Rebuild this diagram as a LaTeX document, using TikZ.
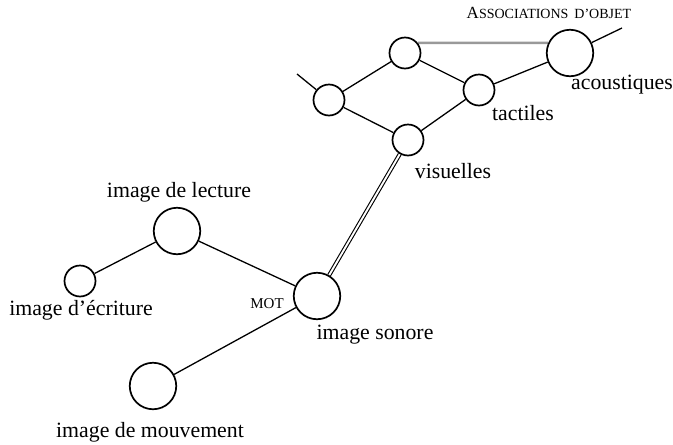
\documentclass[tikz,border=0pt]{standalone}
\usepackage{fontspec}
\setmainfont{Liberation Serif}
\pgfdeclarelayer{bg}
\pgfsetlayers{bg,main}
\newcommand{\fsc}[2]{{\fontsize{17}{18}\selectfont #1}{\fontsize{14}{15}\selectfont #2}}
\begin{document}
\begin{tikzpicture}[x=1pt,y=-1pt,
  circ/.style={circle,draw,line width=1.7pt,inner sep=0pt,fill=white},
  smallc/.style={circ,minimum size=31pt},
  bigc/.style={circ,minimum size=46.5pt},
  edge/.style={line width=1.3pt},
  grayedge/.style={line width=2.4pt,color=black!40},
  dbl/.style={line width=1.1pt,double=white,double distance=1.9pt},
  lbl/.style={anchor=base,inner sep=0pt,font=\fontsize{21.8}{24}\selectfont},
  sclbl/.style={anchor=base,inner sep=0pt},
]
\useasboundingbox (0,0) rectangle (673,445);
% object associations
\node[smallc] (A) at (405,53) {};
\node[smallc] (L) at (329,100) {};
\node[smallc] (V) at (408,140) {};
\node[smallc] (T) at (479,90) {};
\node[bigc] (AC) at (570,53) {};
\coordinate (endAC) at (622,28);
\coordinate (endL) at (297,74);
% word
\node[bigc] (LE) at (177,231) {};
\node[smallc] (EC) at (80,281) {};
\node[bigc] (MOT) at (317,296) {};
\node[bigc] (MV) at (153,386) {};
% labels
\node[sclbl] (tAss) at (549,18) {\fsc{A}{SSOCIATIONS}\hspace{6pt}\fsc{}{D'OBJET}};
\node[lbl] (tAc) at (622,89) {acoustiques};
\node[lbl] (tTa) at (523,120) {tactiles};
\node[lbl] (tVi) at (453,178) {visuelles};
\node[lbl] (tLe) at (179,197) {image de lecture};
\node[lbl] (tEc) at (81,315) {image d’écriture};
\node[sclbl,font=\fontsize{15}{17}\selectfont] (tMot) at (267,308) {MOT};
\node[lbl] (tSo) at (375,339) {image sonore};
\node[lbl] (tMv) at (150,437) {image de mouvement};
% connectors
\begin{pgfonlayer}{bg}
\draw[edge] (endL) -- (L);
\draw[edge] (L) -- (A);
\draw[edge] (L) -- (V);
\draw[edge] (A) -- (T);
\draw[edge] (V) -- (T);
\draw[edge] (T) -- (AC);
\draw[edge] (AC) -- (endAC);
\draw[grayedge] (A.38.7) -- (AC.155.4);
\draw[dbl] (V) -- (MOT);
\draw[edge] (EC) -- (LE);
\draw[edge] (LE) -- (MOT);
\draw[edge] (MOT) -- (MV);
\end{pgfonlayer}
\end{tikzpicture}
\end{document}
